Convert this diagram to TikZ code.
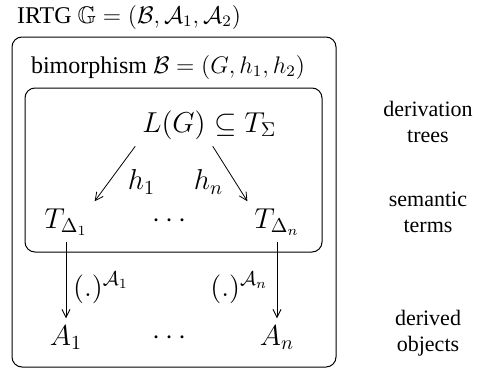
\documentclass[tikz,border=0pt]{standalone}
\usepackage{amsmath,amssymb}
\usepackage{fontspec}
\setmainfont{Liberation Serif}
\usepackage{tikz}
\usetikzlibrary{arrows.meta}

\begin{document}
\begin{tikzpicture}[x=0.5pt,y=-0.5pt,
  every node/.style={font=\fontsize{12}{14}\selectfont},
  big/.style={font=\fontsize{14.4}{17}\selectfont},
  side/.style={align=center, font=\fontsize{11}{13}\selectfont},
  frame/.style={draw, rounded corners=5pt, line width=0.5pt},
  map/.style={-{Straight Barb[length=4pt,width=4pt]}, line width=0.4pt}]
\useasboundingbox (0,0) rectangle (486,370);
% boxes
\draw[frame] (12,37) rectangle (336,367);
\draw[frame] (25,88) rectangle (322,252);
\node[anchor=west] (irtg) at (10,17) {IRTG $\mathbb{G} = (\mathcal{B}, \mathcal{A}_1, \mathcal{A}_2)$};
\node[anchor=west] (bim) at (24,67) {bimorphism $\mathcal{B} = (G, h_1, h_2)$};
% objects
\node[big, anchor=base] (lg) at (174,132) {$L(G)$};
\node[big, anchor=base west] (ts) at (207,132) {$\subseteq T_\Sigma$};
\node[big, anchor=base] (t1) at (66,228) {$T_{\Delta_1}$};
\node[big] (tdots) at (172,221) {$\cdots$};
\node[big, anchor=base] (tn) at (277,228) {$T_{\Delta_n}$};
\node[big, anchor=base] (a1) at (66,345) {$A_1$};
\node[big] (adots) at (172,338) {$\cdots$};
\node[big, anchor=base] (an) at (277,345) {$A_n$};
% arrows
\draw[map] (lg.south west) -- (t1.north east) node[big, pos=0.65, right=6pt] {$h_1$};
\draw[map] (lg.south east) -- (tn.north west) node[big, pos=0.65, left=2.5pt] {$h_n$};
\draw[map] (t1) -- (a1) node[big, pos=0.6, right] {$(.)^{\mathcal{A}_1}$};
\draw[map] (tn) -- (an) node[big, pos=0.6, left=1pt] {$(.)^{\mathcal{A}_n}$};
% levels
\node[side] (lvl1) at (428,122) {derivation\\trees};
\node[side] (lvl2) at (428,212) {semantic\\terms};
\node[side] (lvl3) at (428,333) {derived\\objects};
\end{tikzpicture}
\end{document}
